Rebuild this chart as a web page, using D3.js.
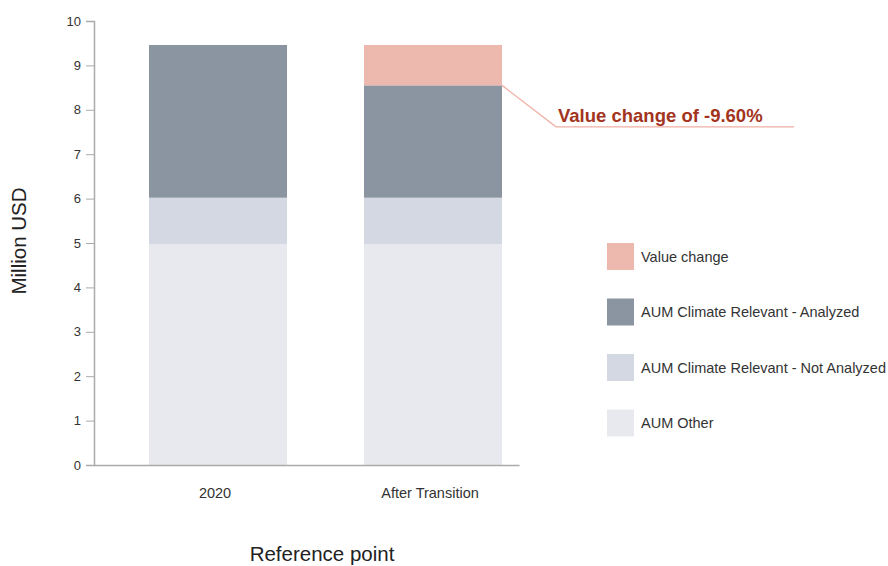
<!DOCTYPE html>
<html><head><meta charset="utf-8">
<script src="https://cdn.jsdelivr.net/npm/d3@7"></script>
<style>body{margin:0;background:#fff;font-family:"Liberation Sans",Arial,sans-serif}</style>
</head><body><svg id="c" width="888" height="566" style="font-family:'Liberation Sans',Arial,sans-serif"></svg>
<script>
const categories = ["2020", "After Transition"];
const seriesNames = ["AUM Other", "AUM Climate Relevant - Not Analyzed", "AUM Climate Relevant - Analyzed", "Value change"];
const aumOther = [4.97, 4.97];
const aumNotAnalyzed = [1.05, 1.05];
const aumAnalyzed = [3.44, 2.53];
const valueChange = [0, 0.91];
const yTicks = [0,1,2,3,4,5,6,7,8,9,10];
const legendOrder = ["Value change", "AUM Climate Relevant - Analyzed", "AUM Climate Relevant - Not Analyzed", "AUM Other"];
const colors = {"AUM Other":"#e8e9ef","AUM Climate Relevant - Not Analyzed":"#d3d8e2","AUM Climate Relevant - Analyzed":"#8a95a1","Value change":"#edb8ae"};
const annotationText = "Value change of -9.60%";
const FONT = "'Liberation Sans',Arial,sans-serif";

const svg = d3.select("#c");
const y = d3.scaleLinear().domain([0,10]).range([465,21]);
const x = d3.scaleBand().domain(categories).range([94,519]).paddingInner(0.358).paddingOuter(0.1674).align(0.764);

const rows = categories.map((c,i)=>({cat:c,"AUM Other":aumOther[i],"AUM Climate Relevant - Not Analyzed":aumNotAnalyzed[i],"AUM Climate Relevant - Analyzed":aumAnalyzed[i],"Value change":valueChange[i]}));
const stack = d3.stack().keys(seriesNames)(rows);

svg.append("g").selectAll("g").data(stack).join("g").attr("fill",d=>colors[d.key])
  .selectAll("rect").data(d=>d).join("rect")
  .attr("x",d=>x(d.data.cat)).attr("width",x.bandwidth())
  .attr("y",d=>y(d[1])).attr("height",d=>y(d[0])-y(d[1]));

// y axis
const ya = svg.append("g").attr("transform","translate(94,0)").call(d3.axisLeft(y).tickValues(yTicks).tickSize(8).tickPadding(5));
ya.select(".domain").attr("stroke","#aaa").attr("stroke-width",1.5);
ya.selectAll(".tick line").attr("stroke","#aaa");
ya.selectAll("text").attr("fill","#333").style("font-size","13px").style("font-family",FONT);

// x axis
const xa = svg.append("g").attr("transform","translate(0,465)").call(d3.axisBottom(x).tickSize(0).tickPadding(23).tickSizeOuter(0));
xa.select(".domain").attr("stroke","#aaa").attr("stroke-width",1.5);
xa.selectAll("text").attr("fill","#333").attr("dx",-3).style("font-size","14.5px").style("font-family",FONT);

// axis titles
svg.append("text").attr("x",322).attr("y",561).attr("text-anchor","middle").attr("fill","#222").style("font-size","20.5px").text("Reference point");
svg.append("text").attr("transform","translate(26,241) rotate(-90)").attr("text-anchor","middle").attr("fill","#222").style("font-size","20.5px").text("Million USD");

// annotation
const i2 = 1;
const topA = y(aumOther[i2]+aumNotAnalyzed[i2]+aumAnalyzed[i2]);
const bx = x(categories[i2])+x.bandwidth();
svg.append("path").attr("d",`M${bx},${topA}L${bx+54},${topA+41.5}L794,${topA+41.5}`).attr("fill","none").attr("stroke","#f0b0a5").attr("stroke-width",1.3);
svg.append("text").attr("x",bx+56).attr("y",topA+37).attr("fill","#a23420").style("font-size","18.5px").style("font-weight","bold").text(annotationText);

// legend
const lg = svg.append("g");
legendOrder.forEach((k,i)=>{
  const yy = 243 + i*55.5;
  lg.append("rect").attr("x",607).attr("y",yy).attr("width",27).attr("height",27).attr("fill",colors[k]);
  lg.append("text").attr("x",641).attr("y",yy+18.5).attr("fill","#333").style("font-size","14.5px").text(k);
});
</script></body></html>
